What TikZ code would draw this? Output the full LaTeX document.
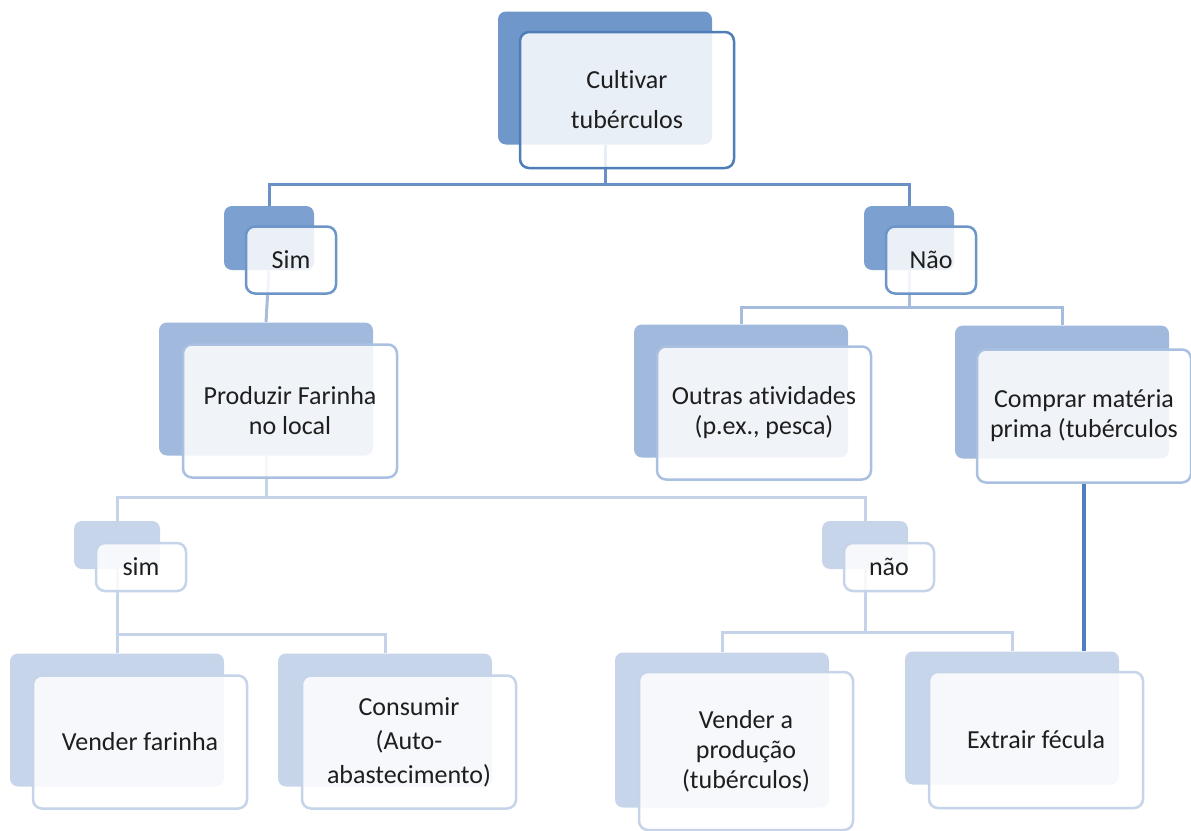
\documentclass[tikz,border=0pt]{standalone}
\usepackage{fontspec}
\setmainfont[Ligatures={NoCommon}]{Carlito}
\definecolor{txt}{HTML}{1E1E1E}
\definecolor{backA}{HTML}{6F97CA}
\definecolor{lineA}{HTML}{4E7DB8}
\definecolor{backB}{HTML}{7CA0D0}
\definecolor{lineB}{HTML}{6E95C9}
\definecolor{backC}{HTML}{A0B9DC}
\definecolor{lineC}{HTML}{A9C0E0}
\definecolor{backD}{HTML}{C7D5EA}
\definecolor{lineD}{HTML}{C6D4E9}
\definecolor{connA}{HTML}{6A90C6}
\definecolor{connB}{HTML}{A6BCDD}
\definecolor{connC}{HTML}{C5D3E8}
\definecolor{connX}{HTML}{4F7FBF}

\begin{document}
\begin{tikzpicture}[x=0.5pt,y=-0.5pt,
    back/.style={rounded corners=4pt, inner sep=0pt},
    front/.style={draw, line width=1.25pt, rounded corners=4.5pt, fill=white,
      fill opacity=0.85, text opacity=1, inner sep=0pt, align=center,
      text=txt, font=\fontsize{13}{15}\selectfont},
    big/.style={minimum width=107pt, minimum height=66.5pt},
    small/.style={minimum width=45pt, minimum height=32pt},
    tiny/.style={minimum width=43pt, minimum height=24pt},
    link/.style={line width=1.5pt}]
  \useasboundingbox (0,0) rectangle (1191,831);

  % back shapes
  \node [back, big, fill=backA] (bCult) at (605,78) {};
  \node [back, small, fill=backB] (bSim) at (269,238) {};
  \node [back, small, fill=backB] (bNao) at (909,238) {};
  \node [back, big, fill=backC] (bProd) at (266,389) {};
  \node [back, big, fill=backC] (bOutr) at (741,391) {};
  \node [back, big, fill=backC] (bComp) at (1062,392) {};
  \node [back, tiny, fill=backD] (bsim) at (117,545) {};
  \node [back, tiny, fill=backD] (bnao) at (865,545) {};
  \node [back, big, fill=backD] (bVend) at (117,720) {};
  \node [back, big, fill=backD] (bCons) at (385,720) {};
  \node [back, big, minimum height=77.5pt, fill=backD] (bProdu) at (722,730) {};
  \node [back, big, fill=backD] (bExtr) at (1012,718) {};

  % connectors
  \draw [link, connA] (bCult.south) -- ++(0,40) -| (bSim.north);
  \draw [link, connA] (bCult.south) -- ++(0,40) -| (bNao.north);
  \draw [link, connB] (bSim.south) -- (bProd.north);
  \draw [link, connB] (bNao.south) -- ++(0,37) -| (bOutr.north);
  \draw [link, connB] (bNao.south) -- ++(0,37) -| (bComp.north);
  \draw [link, connC] (bProd.south) -- ++(0,42) -| (bsim.north);
  \draw [link, connC] (bProd.south) -- ++(0,42) -| (bnao.north);
  \draw [link, connC] (bsim.south) -- ++(0,65) -| (bVend.north);
  \draw [link, connC] (bsim.south) -- ++(0,65) -| (bCons.north);
  \draw [link, connC] (bnao.south) -- ++(0,63) -| (bProdu.north);
  \draw [link, connC] (bnao.south) -- ++(0,63) -| (bExtr.north);

  % front shapes
  \node [front, big, minimum height=68pt, draw=lineA, font=\fontsize{13}{20}\selectfont] (fCult) at (627,100) {Cultivar\\tubérculos};
  \node [front, small, minimum height=33.5pt, draw=lineB] (fSim) at (291,260) {Sim};
  \node [front, small, minimum height=33.5pt, draw=lineB] (fNao) at (931,260) {Não};
  \node [front, big, draw=lineC] (fProd) at (290,411) {Produzir Farinha\\no local};
  \node [front, big, draw=lineC] (fOutr) at (764,413) {Outras atividades\\(p.ex., pesca)};
  \node [front, big, draw=lineC] (fComp) at (1084,416) {Comprar matéria\\prima (tubérculos};
  \node [front, tiny, minimum width=45pt, draw=lineD] (fsim) at (141,567) {sim};
  \node [front, tiny, minimum width=45pt, draw=lineD] (fnao) at (889,567) {não};
  \node [front, big, draw=lineD] (fVend) at (140,742) {Vender farinha};
  \node [front, big, draw=lineD, font=\fontsize{13}{17}\selectfont] (fCons) at (409,742) {Consumir\\(Auto-\\abastecimento)};
  \node [front, big, minimum height=79pt, draw=lineD] (fProdu) at (746,751) {Vender a\\produção\\(tubérculos)};
  \node [front, big, minimum height=68pt, draw=lineD] (fExtr) at (1036,740) {Extrair fécula};

  % ligacao direta
  \draw [line width=2pt, connX] (fComp.south) -- (fComp.south |- bExtr.north);
\end{tikzpicture}
\end{document}
